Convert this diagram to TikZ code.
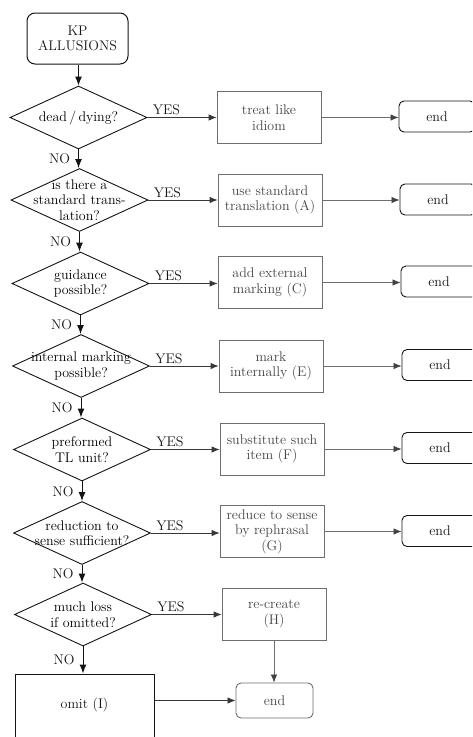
\documentclass[tikz,border=0pt]{standalone}
\usetikzlibrary{shapes.geometric,arrows.meta}
\definecolor{ink}{HTML}{141414}
\definecolor{greyline}{HTML}{6E6E6E}
\definecolor{greytext}{HTML}{444444}
\begin{document}
\begin{tikzpicture}[x=1pt,y=-1pt,
  every node/.style={font=\fontsize{14}{15.5}\selectfont, align=center, inner sep=0pt},
  startbox/.style={draw=ink, line width=1pt, rounded corners=8pt,
    minimum width=101pt, minimum height=51pt, text=ink},
  question/.style={draw=ink, line width=0.9pt, shape=diamond, aspect=2.17,
    minimum width=137pt, minimum height=63pt},
  action/.style={draw=greyline, line width=0.8pt, text=greytext,
    minimum width=104pt, minimum height=52pt},
  endbox/.style={draw=ink, line width=0.9pt, rounded corners=5pt,
    minimum width=76pt, minimum height=31pt, text=ink},
  endgrey/.style={endbox, draw=greyline, text=greytext, minimum width=77pt, minimum height=35pt},
  flow/.style={draw=ink, line width=1pt, -{Latex[length=9pt,width=7pt]}},
  yesflow/.style={draw=ink!85, line width=0.8pt, -{Latex[length=8pt,width=6.5pt]}},
  endflow/.style={draw=greyline, line width=0.8pt, -{Latex[length=8pt,width=6.5pt,color=ink!80]}},
  yeslab/.style={pos=0, anchor=south west, xshift=5pt, yshift=2pt, text=ink},
  nolab/.style={midway, left=8pt, text=ink}
]
\useasboundingbox (0,0) rectangle (472,737);
\clip (0,0) rectangle (472,737);

% start
\node[startbox] (kp) at (77.5,38.5) {KP\\ALLUSIONS};

% decision column
\node[question, label=center:{dead\,/\,dying?}] (d1) at (78.5,117.5) {};
\node[question, label=center:{is there a\\standard trans-\\lation?}] (d2) at (79.5,200) {};
\node[question, label=center:{guidance\\possible?}] (d3) at (80.5,283.5) {};
\node[question, label=center:{internal marking\\possible?}] (d4) at (81,366) {};
\node[question, label=center:{preformed\\TL unit?}] (d5) at (82,449.5) {};
\node[question, label=center:{reduction to\\sense sufficient?}] (d6) at (82,533) {};
\node[question, label=center:{much loss\\if omitted?}] (d7) at (83,614.5) {};

% final fallback
\node[draw=ink, line width=1pt, anchor=base, minimum width=139pt,
      text height=34pt, text depth=70pt, text=ink] (omit) at (84.5,708) {omit (I)};

% actions
\node[action] (b1) at (269,117.5) {treat like\\idiom};
\node[action] (b2) at (270,200) {use standard\\translation (A)};
\node[action] (b3) at (270,282.5) {add external\\marking (C)};
\node[action] (b4) at (271,366) {mark\\internally (E)};
\node[action] (b5) at (272,449) {substitute such\\item (F)};
\node[action] (b6) at (272,531.5) {reduce to sense\\by rephrasal\\(G)};
\node[action] (b7) at (274,614) {re-create\\(H)};

% terminals
\node[endbox] (e1) at (437,116.5) {end};
\node[endbox] (e2) at (438,199.5) {end};
\node[endbox] (e3) at (439,281.5) {end};
\node[endbox] (e4) at (440,365) {end};
\node[endbox] (e5) at (440,448) {end};
\node[endbox] (e6) at (440,531) {end};
\node[endgrey] (e7) at (274.5,700.5) {end};

% main spine, drawn straight down from each shape
\draw[flow] (kp.south -| d1.north) -- (d1.north);
\draw[flow] (d1.south) -- (d1.south |- d2.north) node[nolab] {NO};
\draw[flow] (d2.south) -- (d2.south |- d3.north) node[nolab] {NO};
\draw[flow] (d3.south) -- (d3.south |- d4.north) node[nolab] {NO};
\draw[flow] (d4.south) -- (d4.south |- d5.north) node[nolab] {NO};
\draw[flow] (d5.south) -- (d5.south |- d6.north) node[nolab] {NO};
\draw[flow] (d6.south) -- (d6.south |- d7.north) node[nolab] {NO};
\draw[flow] (d7.south) -- (d7.south |- omit.north) node[nolab] {NO};

% YES branches
\foreach \i in {1,...,7}{
  \draw[yesflow] (d\i.east) -- node[yeslab] {YES} (d\i.east -| b\i.west);
}
\foreach \i in {1,...,6}{
  \draw[endflow] (b\i.east) -- (b\i.east -| e\i.west);
}
\draw[endflow] (b7.south) -- (b7.south |- e7.north);
\draw[yesflow] (omit.east |- e7.west) -- (e7.west);
\end{tikzpicture}
\end{document}
